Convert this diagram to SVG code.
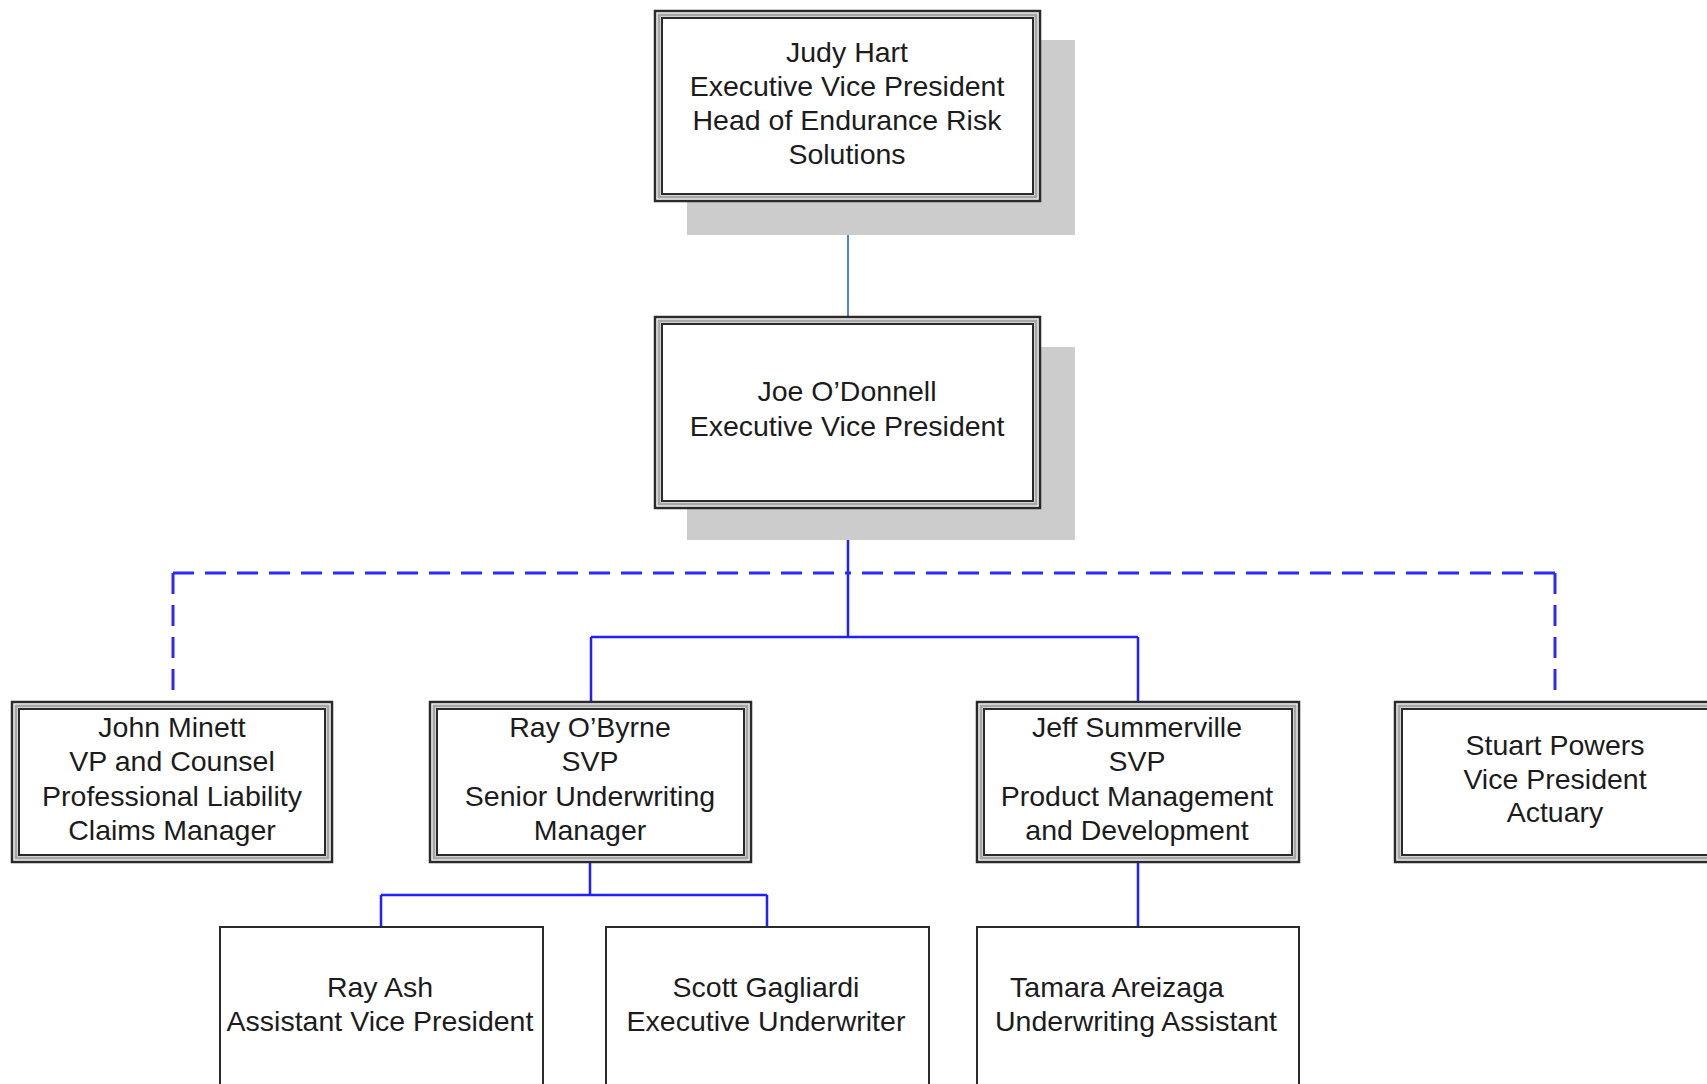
<svg xmlns="http://www.w3.org/2000/svg" width="1707" height="1084" viewBox="0 0 1707 1084">
<style>
.bg{fill:#ffffff}
.sh{fill:#cccccc}
.o{fill:#ffffff;stroke:#2a2a2a;stroke-width:2.5}
.m{fill:none;stroke:#a6a6a6;stroke-width:3}
.i{fill:#ffffff;stroke:#2a2a2a;stroke-width:2}
.s{fill:#ffffff;stroke:#2a2a2a;stroke-width:2}
.t{font-family:"Liberation Sans",Arial,sans-serif;font-size:28.5px;fill:#1c1c1c;text-anchor:middle}
.c{fill:none;stroke:#1f1fff;stroke-width:2.5}
.c0{fill:none;stroke:#4f84d6;stroke-width:2}
.d{fill:none;stroke:#2a2aff;stroke-width:3;stroke-dasharray:21 11}
</style>
<rect class="bg" x="0" y="0" width="1707" height="1084"/>
<g id="connectors">
<path class="c0" d="M848,202 V316"/>
<path class="c" d="M848,509 V637 M591,637 H1138 M591,637 V701 M1138,637 V701"/>
<path class="d" d="M173,573 V700 M173,573 H848 M1555,573 V700 M1555,573 H848"/>
<path class="c" d="M590,862 V895 M381,895 H767 M381,895 V927 M767,895 V927"/>
<path class="c" d="M1138,862 V927"/>
</g>
<g id="judy">
<rect class="sh" x="687" y="40" width="388" height="195"/>
<rect class="o" x="655" y="11" width="385" height="190"/>
<rect class="m" x="659" y="15" width="377" height="182"/>
<rect class="i" x="662" y="18" width="371" height="176"/>
<text class="t" x="847" y="62">Judy Hart</text>
<text class="t" x="847" y="96">Executive Vice President</text>
<text class="t" x="847" y="130">Head of Endurance Risk</text>
<text class="t" x="847" y="164">Solutions</text>
</g>
<g id="joe">
<rect class="sh" x="687" y="347" width="388" height="193"/>
<rect class="o" x="655" y="317" width="385" height="191"/>
<rect class="m" x="659" y="321" width="377" height="183"/>
<rect class="i" x="662" y="324" width="371" height="177"/>
<text class="t" x="847" y="401">Joe O’Donnell</text>
<text class="t" x="847" y="436">Executive Vice President</text>
</g>
<g id="john">
<rect class="o" x="12" y="702" width="320" height="160"/>
<rect class="m" x="16" y="706" width="312" height="152"/>
<rect class="i" x="19" y="709" width="306" height="146"/>
<text class="t" x="172" y="737">John Minett</text>
<text class="t" x="172" y="771">VP and Counsel</text>
<text class="t" x="172" y="806">Professional Liability</text>
<text class="t" x="172" y="840">Claims Manager</text>
</g>
<g id="rayobyrne">
<rect class="o" x="430" y="702" width="321" height="160"/>
<rect class="m" x="434" y="706" width="313" height="152"/>
<rect class="i" x="437" y="709" width="307" height="146"/>
<text class="t" x="590" y="737">Ray O’Byrne</text>
<text class="t" x="590" y="771">SVP</text>
<text class="t" x="590" y="806">Senior Underwriting</text>
<text class="t" x="590" y="840">Manager</text>
</g>
<g id="jeff">
<rect class="o" x="977" y="702" width="322" height="160"/>
<rect class="m" x="981" y="706" width="314" height="152"/>
<rect class="i" x="984" y="709" width="308" height="146"/>
<text class="t" x="1137" y="737">Jeff Summerville</text>
<text class="t" x="1137" y="771">SVP</text>
<text class="t" x="1137" y="806">Product Management</text>
<text class="t" x="1137" y="840">and Development</text>
</g>
<g id="stuart">
<rect class="o" x="1395" y="702" width="322" height="160"/>
<rect class="m" x="1399" y="706" width="314" height="152"/>
<rect class="i" x="1402" y="709" width="308" height="146"/>
<text class="t" x="1555" y="755">Stuart Powers</text>
<text class="t" x="1555" y="789">Vice President</text>
<text class="t" x="1555" y="822">Actuary</text>
</g>
<g id="rayash">
<rect class="s" x="220" y="927" width="323" height="180"/>
<text class="t" x="380" y="997">Ray Ash</text>
<text class="t" x="380" y="1031">Assistant Vice President</text>
</g>
<g id="scott">
<rect class="s" x="606" y="927" width="323" height="180"/>
<text class="t" x="766" y="997">Scott Gagliardi</text>
<text class="t" x="766" y="1031">Executive Underwriter</text>
</g>
<g id="tamara">
<rect class="s" x="977" y="927" width="322" height="180"/>
<text class="t" x="1117" y="997">Tamara Areizaga</text>
<text class="t" x="1136" y="1031">Underwriting Assistant</text>
</g>
</svg>
